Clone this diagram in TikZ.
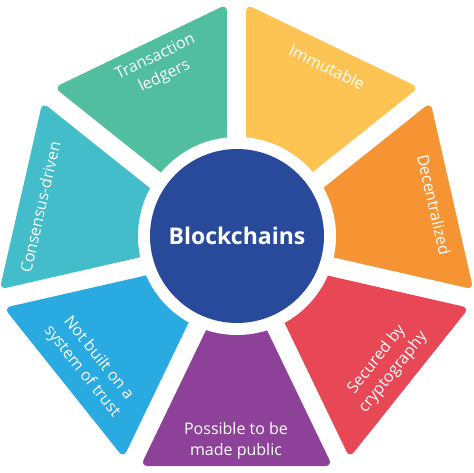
\documentclass[tikz,border=0pt]{standalone}
\usepackage{fontspec}
\setmainfont{Open Sans}
\usepackage{tikz}
\usetikzlibrary{positioning, calc}
\definecolor{segTeal}{HTML}{52BEA0}
\definecolor{segYellow}{HTML}{FDC454}
\definecolor{segOrange}{HTML}{F69433}
\definecolor{segRed}{HTML}{E84855}
\definecolor{segPurple}{HTML}{8E4198}
\definecolor{segBlue}{HTML}{29ABE2}
\definecolor{segCyan}{HTML}{43BDC9}
\definecolor{coreBlue}{HTML}{294A9A}
\tikzset{
  seglabel/.style  = {text=white, align=center, inner sep=0pt,
                      font=\fontsize{16}{21}\selectfont},
  corecircle/.style = {circle, fill=coreBlue, text=white, inner sep=0pt,
                      minimum size=174pt, font=\fontsize{23}{26}\selectfont\bfseries},
}

\begin{document}
\begin{tikzpicture}[x=1pt, y=1pt]
  \useasboundingbox (0,0) rectangle (474,472);
  \def\halfgap{9.5}
  \def\apo{221}

  % Seven segments of the heptagon, each drawn in its own rotated frame
  \foreach \ang/\col in {
      -90/segPurple,
      -38.571/segRed,
      12.857/segOrange,
      64.286/segYellow,
      115.714/segTeal,
      167.143/segCyan,
      218.571/segBlue}{
    \pgfmathsetmacro\yo{\apo*tan(25.714) - \halfgap/cos(25.714)}
    \pgfmathsetmacro\tip{\halfgap/sin(25.714)}
    \begin{scope}[shift={(236.5,227)}, rotate=\ang]
      \fill[\col] (\tip,0) [rounded corners=7pt] -- (\apo,\yo)
        -- (\apo,-\yo) [sharp corners] -- cycle;
    \end{scope}
  }

  % White ring round the centre
  \fill[white] (237,236) circle (99);

  % Centre
  \node[corecircle] (core) at (237,236) {Blockchains};

  % Labels
  \node[seglabel, rotate=25.714]  (ledgers) at (160,405) {Transaction\\ledgers};
  \node[seglabel, rotate=-25.714] (immut)   at (327,405) {Immutable};
  \node[seglabel, rotate=-77.143] (decent)  at (434,267) {Decentralized};
  \node[seglabel, rotate=51.429]  (crypto)  at (385,106) {Secured by\\cryptography};
  \node[seglabel]                 (public)  at (236,31)  {Possible to be\\made public};
  \node[seglabel, rotate=-51.429] (trust)   at (90,107)  {Not built on a\\system of trust};
  \node[seglabel, rotate=77.143]  (consens) at (40,265)  {Consensus-driven};
\end{tikzpicture}
\end{document}
